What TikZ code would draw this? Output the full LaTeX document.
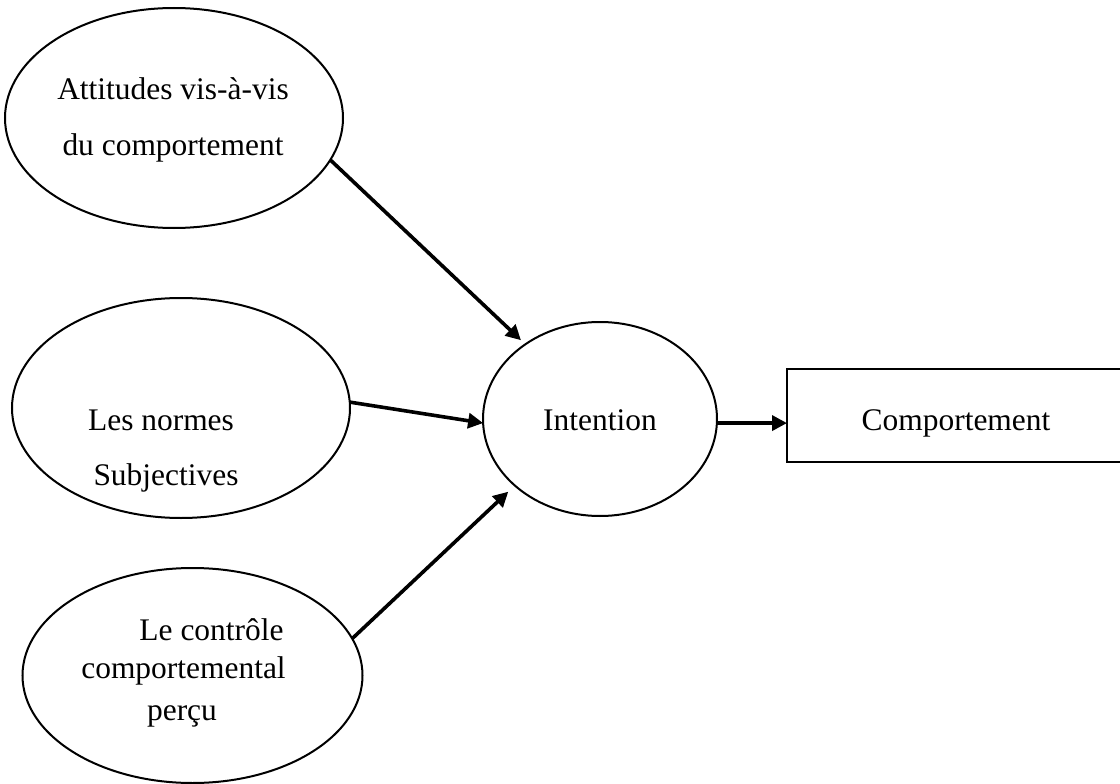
\documentclass[tikz,border=0pt]{standalone}
\usepackage{fontspec}
\setmainfont{Liberation Serif}
\usetikzlibrary{arrows.meta,shapes.geometric}
\newcommand\pxu{0.02cm}
\begin{document}
\begin{tikzpicture}[x=0.02cm, y=-0.02cm,
    oval/.style={draw, ellipse, line width=2*\pxu, inner sep=0pt, outer sep=0pt},
    boxnode/.style={draw, rectangle, line width=2.6*\pxu, inner sep=0pt, outer sep=0pt},
    lbl/.style={anchor=base, inner sep=0pt, font=\fontsize{17.9pt}{21pt}\selectfont},
    link/.style={line width=3.6*\pxu, -{Triangle[length=15*\pxu, width=15*\pxu]}}]
  \useasboundingbox (0,0) rectangle (1120,784);
  \clip (0,0) rectangle (1120,784);

  % the three determinants
  \node[oval, minimum width=338*\pxu, minimum height=220*\pxu] (att) at (174,118) {};
  \node[oval, minimum width=338*\pxu, minimum height=220*\pxu] (norm) at (181,408) {};
  \node[oval, minimum width=340*\pxu, minimum height=215*\pxu] (ctrl) at (192.5,675.5) {};

  % intention and behaviour
  \node[oval, minimum width=234*\pxu, minimum height=194*\pxu] (int) at (600,419) {};
  \node[boxnode, minimum width=348*\pxu, minimum height=93*\pxu] (comp) at (961,415.5) {};

  % labels
  \node[lbl] (att1) at (173,100) {Attitudes vis-à-vis};
  \node[lbl] (att2) at (173,155) {du comportement};
  \node[lbl] (norm1) at (161,430) {Les normes};
  \node[lbl] (norm2) at (166,485) {Subjectives};
  \node[lbl] (ctrl1) at (211.5,640) {Le contrôle};
  \node[lbl] (ctrl2) at (183.5,678) {comportemental};
  \node[lbl] (ctrl3) at (182,720) {perçu};
  \node[lbl] (intl) at (600,430) {Intention};
  \node[lbl] (compl) at (956,430) {Comportement};

  % influences
  \draw[link, shorten >=6*\pxu] (att.-15.5) -- (int.135.4);
  \draw[link] (norm.2) -- (int.182);
  \draw[link, shorten >=9*\pxu] (ctrl.13.2) -- (int.218.4);
  \draw[link] (int.-2.5) -- (int.-2.5 -| comp.west);
\end{tikzpicture}
\end{document}
